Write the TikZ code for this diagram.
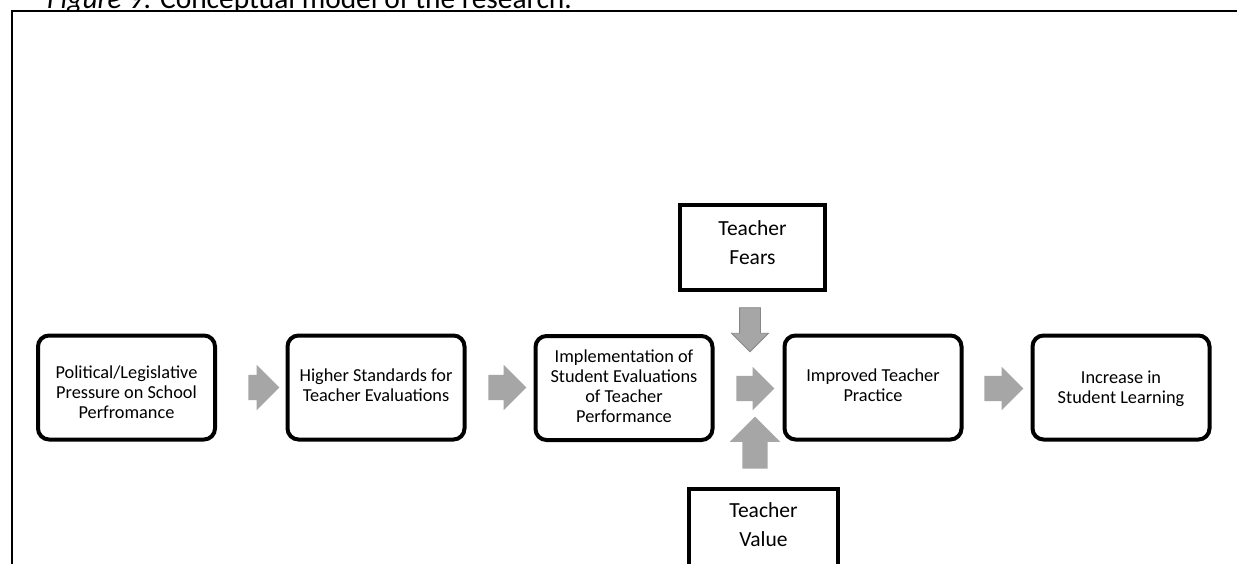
\documentclass[tikz,border=0pt]{standalone}
\usepackage{fontspec}
\setmainfont{Carlito}
\usetikzlibrary{shapes.arrows}

\definecolor{arrowgray}{RGB}{166,166,166}
\definecolor{arrowedge}{RGB}{135,135,135}

\newcommand\stagefont{\fontsize{18.3}{20}\selectfont}
\newcommand\factorfont{\fontsize{21.5}{28.5}\selectfont}
\newcommand\captionfont{\fontsize{29.4}{36}\selectfont}
% centred lines of text, moved by #1 (positive = down) without changing the box size
\newcommand\linesat[2]{\raisebox{-#1}[\height][\depth]{\begin{tabular}{@{}c@{}}#2\end{tabular}}}

\tikzset{
  stage/.style={draw=black, line width=4pt, rounded corners=11pt, fill=white,
    minimum width=177pt, minimum height=104pt, inner sep=0pt,
    align=center, font=\stagefont},
  factor/.style={draw=black, line width=4pt, fill=white,
    minimum width=145pt, minimum height=85pt, inner sep=0pt,
    align=center, font=\factorfont},
  % block arrow: the value is half the shaft width
  blockarrow/.style={single arrow, fill=arrowgray, draw=none,
    inner xsep=0pt, inner ysep=#1, single arrow tip angle=90},
  blockarrow/.default=12.5pt,
}

\begin{document}
\begin{tikzpicture}[x=1pt, y=-1pt]
  \useasboundingbox (0,0) rectangle (1237,564);
  \clip (0,0) rectangle (1237,564);

  % caption above the figure frame
  \node[anchor=base west, font=\captionfont, inner sep=0pt] (caption) at (47,9)
    {\textit{Figure} 9: Conceptual model of the research.};
  \fill[white] (11,9.6) rectangle (1240,570);
  \draw[line width=2pt] (11.5,570) -- (11.5,11.5) -- (1240,11.5);

  % main chain of stages
  \node[stage] (pressure)  at (126.5,387.5) {\linesat{7pt}{Political/Legislative\\Pressure on School\\Perfromance}};
  \node[stage] (standards) at (376,387.5)   {\linesat{0pt}{Higher Standards for\\Teacher Evaluations}};
  \node[stage] (implement) at (624,388)     {\linesat{0pt}{Implementation of\\Student Evaluations\\of Teacher\\Performance}};
  \node[stage] (practice)  at (873,387.5)   {\linesat{0pt}{Improved Teacher\\Practice}};
  \node[stage] (learning)  at (1121,387.5)  {\linesat{2pt}{Increase in\\Student Learning}};

  % moderating factors (text sits above the box centre)
  \node[factor] (fears) at (752.5,247.5) {\linesat{-3pt}{Teacher\\Fears}};
  \node[factor, minimum width=149pt] (value) at (763.5,531.5) {\linesat{-5pt}{Teacher\\Value}};

  % block arrows between the stages
  \node[blockarrow, minimum height=31pt, single arrow head extend=10pt]
    (a1) at (257.5,387.5) {};
  \node[blockarrow, minimum height=38pt, single arrow head extend=10pt]
    (a2) at (501,387.5) {};
  \node[blockarrow, minimum height=38pt, single arrow head extend=9pt]
    (a3) at (749,388.5) {};
  \node[blockarrow, minimum height=39pt, single arrow head extend=9pt]
    (a4) at (997.5,388.5) {};

  % arrows from the factors
  \node[blockarrow=10pt, draw=arrowedge, line width=0.8pt, rotate=-90,
    minimum height=44pt, single arrow head extend=8pt]
    (down) at (750,324.5) {};
  \node[blockarrow=12.5pt, rotate=90,
    minimum height=52pt, single arrow head extend=12.5pt]
    (up) at (755,449) {};
\end{tikzpicture}
\end{document}
